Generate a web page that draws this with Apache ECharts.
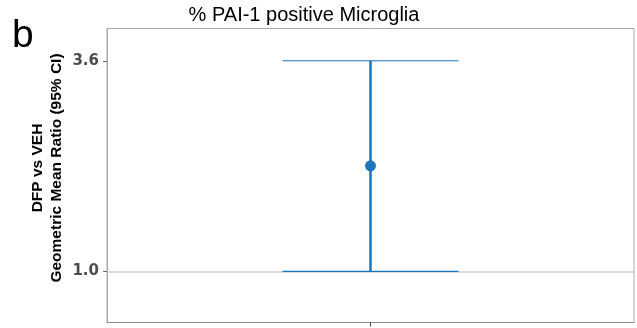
<!DOCTYPE html>
<html>
<head>
<meta charset="utf-8">
<script src="https://cdn.jsdelivr.net/npm/echarts@6/dist/echarts.min.js"></script>
<style>
  html, body { margin: 0; padding: 0; background: #fff; }
  #chart { width: 637px; height: 328px; }
</style>
</head>
<body>
<div id="chart"></div>
<script>
// Comparison and its estimate with 95% confidence interval
const categories = ['DFP vs VEH'];
const gmr = [1.9];
const ciLower = [1.0];
const ciUpper = [3.6];
const yTicks = [1.0, 3.6];
const refLine = 1.0;

const BLUE = '#1b75bb';
const FONT = '"Liberation Sans", Arial, sans-serif';

const chart = echarts.init(document.getElementById('chart'), null, { renderer: 'canvas' });

const ciData = categories.map((c, i) => [i, ciLower[i], ciUpper[i]]);
const pointData = categories.map((c, i) => [i, gmr[i]]);

chart.setOption({
  animation: false,
  backgroundColor: '#fff',
  textStyle: { fontFamily: FONT },
  title: [
    {
      text: '% PAI-1 positive Microglia',
      left: 299, top: 0, textAlign: 'center',
      textStyle: { fontFamily: FONT, fontSize: 20, fontWeight: 'normal', color: '#000' }
    },
    {
      text: 'b',
      left: 7, top: 12,
      textStyle: { fontFamily: FONT, fontSize: 39, fontWeight: 'normal', color: '#000' }
    }
  ],
  grid: {
    left: 107, top: 28.5, right: 3, bottom: 5.5,
    show: true, borderColor: '#a8a8a8', borderWidth: 1, backgroundColor: '#fff'
  },
  xAxis: {
    type: 'category',
    data: categories,
    axisLine: { show: true, lineStyle: { color: '#8c8c8c', width: 1 } },
    axisTick: { show: true, alignWithLabel: true, length: 4, lineStyle: { color: '#444' } },
    axisLabel: { show: false },
    splitLine: { show: false }
  },
  yAxis: {
    type: 'log',
    logBase: 3.6,
    min: 0.733,
    max: 4.38,
    name: 'DFP vs VEH\nGeometric Mean Ratio (95% CI)',
    nameLocation: 'middle',
    nameGap: 41.5,
    nameMoveOverlap: false,
    nameTextStyle: {
      fontFamily: FONT, fontSize: 15.5, fontWeight: 'bold', color: '#000',
      lineHeight: 18.5, padding: [0, 0, 0, 15]
    },
    axisLine: { show: true, lineStyle: { color: '#a8a8a8', width: 1 } },
    axisTick: { show: true, length: 4, customValues: yTicks, lineStyle: { color: '#666' } },
    axisLabel: {
      customValues: yTicks,
      formatter: v => Number(v).toFixed(1),
      fontFamily: '"DejaVu Sans", sans-serif', fontSize: 15, fontWeight: 'bold',
      color: '#4d4d4d', margin: 8
    },
    splitLine: { show: false }
  },
  series: [
    {
      // reference line at ratio 1
      type: 'scatter',
      data: [],
      z: 1,
      markLine: {
        silent: true,
        symbol: 'none',
        z: 1,
        label: { show: false },
        lineStyle: { color: '#cfcfcf', width: 1.5, type: 'solid' },
        data: [{ yAxis: refLine }]
      }
    },
    {
      type: 'custom',
      z: 3,
      data: ciData,
      encode: { x: 0, y: [1, 2] },
      renderItem: function (params, api) {
        const x = api.value(0);
        const lo = api.coord([x, api.value(1)]);
        const hi = api.coord([x, api.value(2)]);
        const half = api.size([1, 1])[0] * 0.334 / 2;
        return {
          type: 'group',
          children: [
            { type: 'line', shape: { x1: hi[0], y1: hi[1], x2: lo[0], y2: lo[1] },
              style: { stroke: BLUE, lineWidth: 2.5 } },
            { type: 'line', shape: { x1: hi[0] - half, y1: hi[1], x2: hi[0] + half, y2: hi[1] },
              style: { stroke: BLUE, lineWidth: 1.2 } },
            { type: 'line', shape: { x1: lo[0] - half, y1: lo[1], x2: lo[0] + half, y2: lo[1] },
              style: { stroke: BLUE, lineWidth: 1.2 } }
          ]
        };
      }
    },
    {
      type: 'scatter',
      z: 4,
      data: pointData,
      symbol: 'circle',
      symbolSize: 11,
      itemStyle: { color: BLUE, opacity: 1 }
    }
  ]
});
</script>
</body>
</html>
